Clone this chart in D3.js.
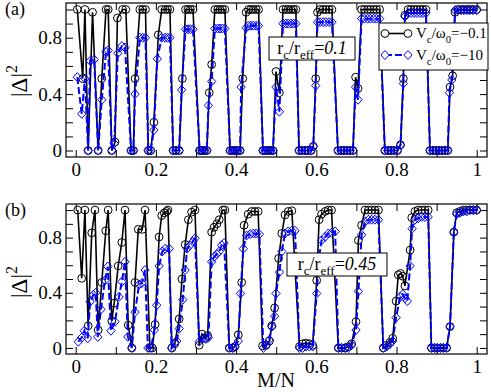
<!DOCTYPE html>
<html>
<head>
<meta charset="utf-8">
<script src="https://cdn.jsdelivr.net/npm/d3@7"></script>
<style>
  body { margin: 0; background: #fff; }
  text { font-family: "Liberation Serif", "Times New Roman", serif; }
</style>
</head>
<body>
<svg id="chart" width="491" height="392"></svg>
<script>
//axis ticks and labels
var xTicks = [0, 0.1, 0.2, 0.3, 0.4, 0.5, 0.6, 0.7, 0.8, 0.9, 1];
var xLabels = [0, 0.2, 0.4, 0.6, 0.8, 1];
var yTicks = [0, 0.1, 0.2, 0.3, 0.4, 0.5, 0.6, 0.7, 0.8, 0.9, 1];
var yLabels = [0, 0.4, 0.8];

//legend / annotation text
var legendWeak = [{t: 'V'}, {t: 'c', sub: 1}, {t: '/ω'}, {t: '0', sub: 1}, {t: '=−0.1'}];
var legendStrong = [{t: 'V'}, {t: 'c', sub: 1}, {t: '/ω'}, {t: '0', sub: 1}, {t: '=−10'}];
var noteA = [{t: 'r'}, {t: 'c', sub: 1}, {t: '/r'}, {t: 'eff', sub: 1}, {t: '='}, {t: '0.1', it: 1}];
var noteB = [{t: 'r'}, {t: 'c', sub: 1}, {t: '/r'}, {t: 'eff', sub: 1}, {t: '='}, {t: '0.45', it: 1}];

//panel (a): [M/N, |Delta|^2], Vc/w0 = -0.1
var aWeak = [[0.004,1.0],[0.0175,0.51],[0.023,1.0],[0.031,0.0],[0.042,0.98],[0.056,0.0],[0.065,0.51],[0.0756,1.0],[0.081,1.0],
  [0.090,0.0],[0.098,0.06],[0.104,0.94],[0.117,1.0],[0.125,1.0],[0.138,0.0],[0.144,0.0],[0.148,0.51],[0.160,1.0],[0.167,1.0],
  [0.174,1.0],[0.181,0.0],[0.187,0.0],[0.195,0.2],[0.206,0.82],[0.2145,1.0],[0.223,1.0],[0.229,1.0],[0.235,1.0],[0.243,0.0],
  [0.250,0.0],[0.258,0.0],[0.266,0.51],[0.274,1.0],[0.280,1.0],[0.286,1.0],[0.2925,1.0],[0.309,0.0],[0.315,0.0],[0.321,0.0],
  [0.327,0.0],[0.333,0.41],[0.339,0.61],[0.347,1.0],[0.354,1.0],[0.360,1.0],[0.366,1.0],[0.372,1.0],[0.385,0.0],[0.391,0.0],
  [0.397,0.0],[0.4035,0.0],[0.410,0.0],[0.4165,0.51],[0.425,0.98],[0.431,1.0],[0.437,1.0],[0.443,1.0],[0.450,1.0],[0.456,1.0],
  [0.467,0.0],[0.473,0.0],[0.480,0.0],[0.486,0.0],[0.492,0.0],[0.4995,0.56],[0.508,0.41],[0.517,1.0],[0.524,1.0],[0.530,1.0],
  [0.537,1.0],[0.543,1.0],[0.549,1.0],[0.557,0.0],[0.564,0.0],[0.572,0.0],[0.579,0.0],[0.587,0.0],[0.5925,0.03],[0.5985,0.51],
  [0.603,0.98],[0.609,1.0],[0.617,1.0],[0.624,1.0],[0.632,1.0],[0.639,1.0],[0.654,0.0],[0.662,0.0],[0.669,0.0],[0.6765,0.0],
  [0.684,0.0],[0.6915,0.0],[0.698,0.52],[0.704,0.44],[0.713,1.0],[0.720,1.0],[0.728,1.0],[0.735,1.0],[0.743,1.0],[0.750,1.0],
  [0.758,1.0],[0.771,0.0],[0.779,0.0],[0.786,0.0],[0.794,0.0],[0.8025,0.0],[0.810,0.04],[0.817,0.51],[0.821,0.96],[0.829,1.0],
  [0.836,1.0],[0.844,1.0],[0.851,1.0],[0.859,1.0],[0.866,1.0],[0.8735,1.0],[0.8835,0.0],[0.891,0.0],[0.8985,0.0],[0.906,0.0],
  [0.9135,0.0],[0.921,0.0],[0.928,0.0],[0.9335,0.45],[0.940,0.53],[0.946,0.98],[0.953,1.0],[0.961,1.0],[0.968,1.0],[0.976,1.0],
  [0.983,1.0],[0.991,1.0],[1.0,1.0]];

//panel (a), Vc/w0 = -10
var aStrong = [[0.004,0.52],[0.015,0.26],[0.023,0.51],[0.031,0.0],[0.036,0.635],[0.046,0.645],[0.056,0.0],[0.065,0.36],
  [0.0756,0.70],[0.081,0.71],[0.090,0.0],[0.096,0.05],[0.105,0.69],[0.115,0.74],[0.123,0.73],[0.138,0.0],[0.144,0.0],[0.148,0.40],
  [0.160,0.80],[0.167,0.80],[0.174,0.80],[0.181,0.0],[0.187,0.0],[0.195,0.145],[0.2035,0.65],[0.2145,0.80],[0.223,0.80],
  [0.229,0.80],[0.235,0.80],[0.243,0.0],[0.250,0.0],[0.258,0.0],[0.264,0.43],[0.274,0.86],[0.280,0.86],[0.286,0.86],[0.2925,0.86],
  [0.309,0.0],[0.315,0.0],[0.321,0.0],[0.327,0.0],[0.331,0.32],[0.339,0.49],[0.347,0.865],[0.354,0.865],[0.360,0.865],
  [0.366,0.865],[0.372,0.865],[0.385,0.0],[0.391,0.0],[0.397,0.0],[0.4035,0.0],[0.410,0.0],[0.4125,0.45],[0.425,0.87],
  [0.431,0.885],[0.437,0.885],[0.443,0.885],[0.450,0.885],[0.456,0.885],[0.467,0.0],[0.473,0.0],[0.480,0.0],[0.486,0.0],
  [0.492,0.0],[0.4995,0.45],[0.508,0.275],[0.517,0.90],[0.524,0.90],[0.530,0.90],[0.537,0.90],[0.543,0.90],[0.549,0.90],
  [0.557,0.0],[0.564,0.0],[0.572,0.0],[0.579,0.0],[0.587,0.0],[0.5925,0.03],[0.5985,0.46],[0.603,0.91],[0.609,0.91],[0.617,0.91],
  [0.624,0.91],[0.632,0.91],[0.639,0.91],[0.654,0.0],[0.662,0.0],[0.669,0.0],[0.6765,0.0],[0.684,0.0],[0.6915,0.0],[0.698,0.45],
  [0.704,0.36],[0.713,0.935],[0.720,0.935],[0.728,0.935],[0.735,0.935],[0.743,0.935],[0.750,0.935],[0.758,0.935],[0.771,0.0],
  [0.779,0.0],[0.786,0.0],[0.794,0.0],[0.8025,0.0],[0.810,0.04],[0.817,0.475],[0.821,0.95],[0.829,0.975],[0.836,0.975],
  [0.844,0.975],[0.851,0.975],[0.859,0.975],[0.866,0.975],[0.8735,0.975],[0.8835,0.0],[0.891,0.0],[0.8985,0.0],[0.906,0.0],
  [0.9135,0.0],[0.921,0.0],[0.928,0.0],[0.932,0.41],[0.938,0.50],[0.946,0.995],[0.953,0.995],[0.961,0.995],[0.968,0.995],
  [0.976,0.995],[0.983,0.995],[0.991,0.995],[1.0,0.995]];

//panel (b), Vc/w0 = -0.1
var bWeak = [[0.005,1.0],[0.015,0.505],[0.023,1.0],[0.031,0.16],[0.040,0.835],[0.048,1.0],[0.056,0.13],[0.065,0.475],
  [0.075,0.85],[0.081,1.0],[0.090,0.195],[0.096,0.325],[0.106,0.595],[0.115,0.765],[0.123,1.0],[0.131,0.165],[0.140,0.0],
  [0.148,0.475],[0.156,0.86],[0.166,0.86],[0.173,1.0],[0.185,0.0],[0.191,0.0],[0.198,0.17],[0.208,0.805],[0.2145,0.96],
  [0.221,0.98],[0.227,0.99],[0.230,1.0],[0.240,0.0],[0.247,0.03],[0.258,0.21],[0.265,0.5],[0.273,0.75],[0.281,0.93],
  [0.289,0.985],[0.2975,1.0],[0.308,0.02],[0.315,0.10],[0.322,0.07],[0.329,0.09],[0.339,0.84],[0.345,0.875],[0.352,0.90],
  [0.358,0.93],[0.367,1.0],[0.372,1.0],[0.383,0.0],[0.3915,0.0],[0.397,0.01],[0.4055,0.095],[0.414,0.475],[0.420,0.89],
  [0.430,0.97],[0.439,0.99],[0.447,0.99],[0.455,0.99],[0.466,0.015],[0.4745,0.02],[0.483,0.05],[0.489,0.16],[0.496,0.29],
  [0.506,0.65],[0.514,0.83],[0.522,0.965],[0.530,0.99],[0.539,0.995],[0.558,0.01],[0.566,0.03],[0.574,0.035],[0.5825,0.03],
  [0.591,0.02],[0.601,0.49],[0.607,0.93],[0.613,0.97],[0.622,0.99],[0.630,1.0],[0.638,1.0],[0.655,0.0],[0.663,0.0],[0.672,0.0],
  [0.680,0.01],[0.688,0.03],[0.699,0.19],[0.705,0.78],[0.713,0.89],[0.7215,1.0],[0.730,1.0],[0.738,1.0],[0.746,1.0],[0.755,1.0],
  [0.767,0.0],[0.7755,0.02],[0.784,0.04],[0.7905,0.07],[0.799,0.34],[0.8045,0.53],[0.810,0.54],[0.8155,0.52],[0.821,0.45],
  [0.834,0.71],[0.838,0.945],[0.846,0.99],[0.854,1.0],[0.863,1.0],[0.871,1.0],[0.879,1.0],[0.887,0.0],[0.895,0.0],[0.902,0.0],
  [0.910,0.0],[0.917,0.0],[0.925,0.0],[0.9335,0.155],[0.943,0.84],[0.950,0.98],[0.958,0.99],[0.9665,1.0],[0.975,1.0],
  [0.983,1.0],[0.9915,1.0],[1.0,1.0]];

//panel (b), Vc/w0 = -10
var bStrong = [[0.0065,0.045],[0.015,0.075],[0.0215,0.125],[0.030,0.07],[0.036,0.335],[0.044,0.385],[0.050,0.40],[0.055,0.08],
  [0.063,0.28],[0.073,0.49],[0.080,0.59],[0.088,0.125],[0.098,0.19],[0.108,0.37],[0.115,0.48],[0.123,0.625],[0.130,0.08],
  [0.140,0.0],[0.148,0.26],[0.158,0.46],[0.165,0.47],[0.173,0.565],[0.180,0.0],[0.188,0.0],[0.196,0.13],[0.202,0.31],
  [0.208,0.595],[0.216,0.70],[0.223,0.72],[0.233,0.72],[0.239,0.0],[0.248,0.04],[0.252,0.05],[0.258,0.14],[0.267,0.35],
  [0.273,0.565],[0.278,0.72],[0.285,0.745],[0.292,0.77],[0.2975,0.795],[0.308,0.045],[0.317,0.07],[0.325,0.065],[0.331,0.075],
  [0.339,0.625],[0.345,0.66],[0.352,0.68],[0.358,0.70],[0.364,0.745],[0.370,0.76],[0.383,0.0],[0.3915,0.0],[0.397,0.01],
  [0.4055,0.05],[0.411,0.395],[0.418,0.72],[0.426,0.815],[0.435,0.825],[0.443,0.83],[0.450,0.83],[0.458,0.825],[0.468,0.0],
  [0.476,0.02],[0.483,0.06],[0.489,0.155],[0.496,0.23],[0.4995,0.395],[0.508,0.55],[0.514,0.70],[0.522,0.83],[0.530,0.845],
  [0.539,0.85],[0.547,0.85],[0.558,0.0],[0.566,0.0],[0.574,0.01],[0.5825,0.01],[0.591,0.01],[0.601,0.395],[0.607,0.66],
  [0.613,0.78],[0.622,0.805],[0.630,0.83],[0.638,0.835],[0.647,0.845],[0.655,0.0],[0.663,0.0],[0.672,0.0],[0.680,0.0],
  [0.688,0.02],[0.699,0.13],[0.705,0.41],[0.713,0.82],[0.7215,0.915],[0.730,0.93],[0.738,0.93],[0.746,0.93],[0.755,0.93],
  [0.767,0.0],[0.7755,0.01],[0.784,0.03],[0.7905,0.05],[0.799,0.22],[0.809,0.37],[0.8155,0.39],[0.821,0.36],[0.827,0.34],
  [0.834,0.595],[0.839,0.865],[0.846,0.93],[0.854,0.94],[0.863,0.95],[0.871,0.95],[0.879,0.95],[0.887,0.0],[0.895,0.0],
  [0.902,0.0],[0.910,0.0],[0.917,0.0],[0.925,0.0],[0.9335,0.155],[0.943,0.84],[0.950,0.97],[0.958,0.98],[0.9665,0.99],
  [0.975,0.99],[0.983,1.0],[0.9915,1.0],[1.0,1.0]];

var svg = d3.select('#chart');
var blue = '#0000ff';
var left = 66, right = 487;
var x = d3.scaleLinear().domain([-0.0242, 1.0257]).range([left, right]);

//text with sub/italic parts
function richText(g, px, py, parts, size, anchor) {
  var t = g.append('text').attr('x', px).attr('y', py)
    .attr('font-size', size).attr('text-anchor', anchor || 'start');
  var shift = 0;
  parts.forEach(function(p) {
    var s = t.append('tspan').text(p.t);
    var target = p.sub ? size * 0.3 : 0;
    if (target != shift) { s.attr('dy', target - shift); shift = target; }
    if (p.sub) s.attr('font-size', size * 0.72);
    if (p.it) s.attr('font-style', 'italic');
  });
  return t;
}

function diamond(s) {
  return 'M0,' + (-s) + 'L' + (s * 0.92) + ',0L0,' + s + 'L' + (-s * 0.92) + ',0Z';
}

function drawPanel(top, bottom, yDomain, weak, strong, tag, note, noteBox, showLegend) {
  var y = d3.scaleLinear().domain(yDomain).range([bottom, top]);
  var g = svg.append('g');
  var fmt = function(d) { return xLabels.indexOf(d) >= 0 ? String(d) : ''; };
  var fmtY = function(d) { return yLabels.indexOf(d) >= 0 ? String(d) : ''; };

  g.append('g').attr('transform', 'translate(0,' + bottom + ')')
    .call(d3.axisBottom(x).tickValues(xTicks).tickSize(-7).tickPadding(6).tickFormat(fmt));
  g.append('g').attr('transform', 'translate(0,' + top + ')')
    .call(d3.axisTop(x).tickValues(xTicks).tickSize(-7).tickFormat(''));
  g.append('g').attr('transform', 'translate(' + left + ',0)')
    .call(d3.axisLeft(y).tickValues(yTicks).tickSize(-7).tickPadding(4).tickFormat(fmtY));
  g.append('g').attr('transform', 'translate(' + right + ',0)')
    .call(d3.axisRight(y).tickValues(yTicks).tickSize(-7).tickFormat(''));
  g.selectAll('.domain').remove();
  g.selectAll('.tick line').attr('stroke', '#000');
  g.selectAll('.tick text').attr('font-family', '"Liberation Serif", serif').attr('font-size', 19).attr('fill', '#000');

  g.append('rect').attr('x', left).attr('y', top).attr('width', right - left).attr('height', bottom - top)
    .attr('fill', 'none').attr('stroke', '#000').attr('stroke-width', 1.2);

  var line = d3.line().x(function(d) { return x(d[0]); }).y(function(d) { return y(d[1]); });

  g.append('path').datum(weak).attr('d', line).attr('fill', 'none')
    .attr('stroke', '#000').attr('stroke-width', 1.6);
  g.selectAll('.cw').data(weak).enter().append('circle')
    .attr('cx', function(d) { return x(d[0]); }).attr('cy', function(d) { return y(d[1]); })
    .attr('r', 3.9).attr('fill', 'none').attr('stroke', '#000').attr('stroke-width', 1);

  g.append('path').datum(strong).attr('d', line).attr('fill', 'none')
    .attr('stroke', blue).attr('stroke-width', 2).attr('stroke-dasharray', '7,3');
  g.selectAll('.ds').data(strong).enter().append('path')
    .attr('transform', function(d) { return 'translate(' + x(d[0]) + ',' + y(d[1]) + ')'; })
    .attr('d', diamond(4.5)).attr('fill', 'none').attr('stroke', blue).attr('stroke-width', 1);

  //panel tag and y title
  svg.append('text').attr('x', 5).attr('y', top + 12).attr('font-size', 18).text(tag);
  var yt = svg.append('text').attr('transform', 'translate(27,' + (top + 78) + ') rotate(-90)')
    .attr('text-anchor', 'middle').attr('font-size', 23);
  yt.append('tspan').text('|Δ|');
  yt.append('tspan').text('2').attr('font-size', 16).attr('dy', -10);

  //annotation box
  g.append('rect').attr('x', noteBox[0]).attr('y', noteBox[1]).attr('width', noteBox[2]).attr('height', noteBox[3])
    .attr('fill', '#fff').attr('stroke', '#000').attr('stroke-width', 1);
  richText(g, noteBox[0] + noteBox[2] / 2, noteBox[1] + noteBox[3] / 2 + 5, note, 18, 'middle');

  if (showLegend) {
    var lg = g.append('g');
    lg.append('rect').attr('x', 379).attr('y', 23).attr('width', right - 379 + 1).attr('height', 47)
      .attr('fill', '#fff').attr('stroke', '#000').attr('stroke-width', 1);
    lg.append('line').attr('x1', 385).attr('x2', 408).attr('y1', 33.5).attr('y2', 33.5)
      .attr('stroke', '#000').attr('stroke-width', 1.6);
    [385, 408].forEach(function(cx) {
      lg.append('circle').attr('cx', cx).attr('cy', 33.5).attr('r', 3.9)
        .attr('fill', '#fff').attr('stroke', '#000');
    });
    lg.append('line').attr('x1', 385).attr('x2', 408).attr('y1', 55).attr('y2', 55)
      .attr('stroke', blue).attr('stroke-width', 2).attr('stroke-dasharray', '7,3');
    [385, 408].forEach(function(cx) {
      lg.append('path').attr('transform', 'translate(' + cx + ',55)').attr('d', diamond(4.5))
        .attr('fill', '#fff').attr('stroke', blue);
    });
    richText(lg, 416, 38, legendWeak, 15);
    richText(lg, 416, 60, legendStrong, 15);
  }
}

drawPanel(3, 157, [-0.046, 1.046], aWeak, aStrong, '(a)', noteA, [269, 37, 86, 23], true);
drawPanel(204, 354, [-0.044, 1.044], bWeak, bStrong, '(b)', noteB, [287, 253, 100, 23], false);

svg.append('text').attr('x', 276).attr('y', 387).attr('text-anchor', 'middle')
  .attr('font-size', 20).text('M/N');
</script>
</body>
</html>
